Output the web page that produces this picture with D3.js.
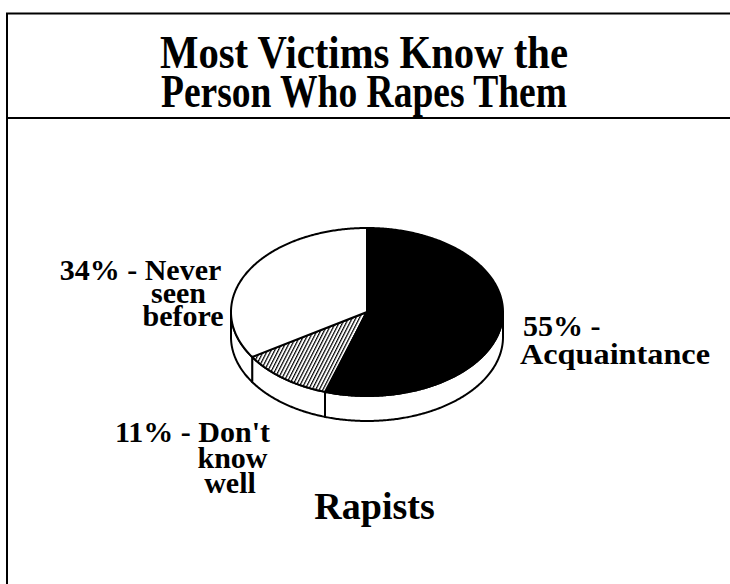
<!DOCTYPE html>
<html>
<head>
<meta charset="utf-8">
<script src="https://cdn.jsdelivr.net/npm/d3@7"></script>
<style>
  html, body { margin: 0; padding: 0; background: #fff; }
  svg { display: block; }
  text { font-family: "Liberation Serif", "Times New Roman", Times, serif; font-weight: bold; fill: #000; }
</style>
</head>
<body>
<svg id="chart" width="730" height="584"></svg>
<script>
// Who the rapist was, share of victims (%)
const categories = ["Acquaintance", "Don't know well", "Never seen before"];
const values = [55, 11, 34];
const fills = ["solid", "hatch", "white"];
// Wording after the percentage, one array entry per printed line
const labelWords = [
  ["", "Acquaintance"],
  ["Don't", "know", "well"],
  ["Never", "seen", "before"]
];
const titleLines = ["Most Victims Know the", "Person Who Rapes Them"];
const pieCaption = "Rapists";

const W = 730, H = 584;
const svg = d3.select("#chart");

// Hatch pattern for the small slice
const defs = svg.append("defs");
const pat = defs.append("pattern")
  .attr("id", "hatch")
  .attr("patternUnits", "userSpaceOnUse")
  .attr("width", 3.2).attr("height", 10)
  .attr("patternTransform", "rotate(27)");
pat.append("rect").attr("width", 3.2).attr("height", 10).attr("fill", "#fff");
pat.append("rect").attr("width", 1.2).attr("height", 10).attr("fill", "#000");

// Frame: top rule, left rule and the rule under the title
svg.append("path")
  .attr("d", `M7,${H} V13.5 H${W}`)
  .attr("fill", "none").attr("stroke", "#000").attr("stroke-width", 2);
svg.append("line")
  .attr("x1", 7).attr("x2", W).attr("y1", 118).attr("y2", 118)
  .attr("stroke", "#000").attr("stroke-width", 2);

// Title
const titleWidths = [408, 406];
svg.selectAll("text.title").data(titleLines).join("text")
  .attr("class", "title")
  .attr("x", 364)
  .attr("y", (d, i) => 68 + i * 39)
  .attr("text-anchor", "middle")
  .attr("font-size", 46)
  .attr("textLength", (d, i) => titleWidths[i])
  .attr("lengthAdjust", "spacingAndGlyphs")
  .text(d => d);

// 3D pie: tilted disc drawn as an ellipse with a visible front rim
const cx = 367, cy = 312, rx = 136, ry = 84, depth = 25;
const pie = d3.pie().sort(null).value(d => d.value);
const arcs = pie(categories.map((c, i) => ({ name: c, value: values[i], fill: fills[i], words: labelWords[i] })));

// angle measured clockwise from 12 o'clock, as d3.pie gives it
const px = d3.scaleLinear().domain([-1, 1]).range([cx - rx, cx + rx]);
const py = d3.scaleLinear().domain([-1, 1]).range([cy + ry, cy - ry]);
const pt = (a, dy = 0) => [px(Math.sin(a)), py(Math.cos(a)) + dy];
const arcPts = (a0, a1, dy = 0) => {
  const n = Math.max(2, Math.ceil(Math.abs(a1 - a0) / 0.01));
  return d3.range(n + 1).map(k => pt(a0 + (a1 - a0) * k / n, dy));
};
const line = d3.line();
const fillOf = d => d.data.fill === "solid" ? "#000" : d.data.fill === "hatch" ? "url(#hatch)" : "#fff";

const pieG = svg.append("g");

// Front rim of each slice (only the part facing the viewer)
pieG.selectAll("path.side").data(arcs).join("path")
  .attr("class", "side")
  .attr("d", d => {
    const s0 = Math.max(d.startAngle, Math.PI / 2);
    const s1 = Math.min(d.endAngle, Math.PI * 3 / 2);
    if (s0 >= s1) return null;
    const pts = arcPts(s0, s1).concat(arcPts(s1, s0, depth));
    return line(pts) + "Z";
  })
  .attr("fill", "#fff")
  .attr("stroke", "#000")
  .attr("stroke-width", 2)
  .attr("stroke-linejoin", "round");

// Top faces
pieG.selectAll("path.top").data(arcs).join("path")
  .attr("class", "top")
  .attr("d", d => line([[cx, cy]].concat(arcPts(d.startAngle, d.endAngle))) + "Z")
  .attr("fill", fillOf)
  .attr("stroke", "#000")
  .attr("stroke-width", 2)
  .attr("stroke-linejoin", "round");

// Slice labels: percentage followed by the wording, line by line
const labelLayout = [
  { anchor: "start", lines: [[523, 336], [520, 364]], widths: [null, 190] },
  { anchor: "middle", lines: [[192.5, 442], [232.5, 468], [230, 493]], widths: [] },
  { anchor: "middle", lines: [[140.5, 280], [178.5, 303], [183, 326]], widths: [] }
];
arcs.forEach((d, i) => {
  const words = d.data.words;
  const lines = words.map((w, j) => j === 0 ? `${d.data.value}% -${w ? " " + w : ""}` : w);
  const lay = labelLayout[i];
  svg.append("g").selectAll("text").data(lines).join("text")
    .attr("x", (t, j) => lay.lines[j][0])
    .attr("y", (t, j) => lay.lines[j][1])
    .attr("text-anchor", lay.anchor)
    .attr("font-size", 30)
    .attr("textLength", (t, j) => lay.widths[j] || null)
    .attr("lengthAdjust", "spacingAndGlyphs")
    .text(t => t);
});

// Caption under the pie
svg.append("text")
  .attr("x", 374.5).attr("y", 519)
  .attr("text-anchor", "middle")
  .attr("font-size", 38)
  .text(pieCaption);
</script>
</body>
</html>
